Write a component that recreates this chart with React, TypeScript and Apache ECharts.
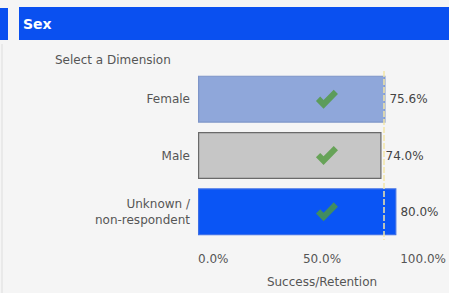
import React, { useEffect, useRef } from "react";
import * as echarts from "echarts";

const categories = ["Female", "Male", "Unknown /\nnon-respondent"];
const values = [75.6, 74.0, 80.0];
const checkPositions = [52, 52, 52];
const targetValue = 75;
const barColors = ["#8fa7da", "#c6c6c6", "#0a55f5"];
const barBorders = ["#7e95c8", "#6a6a6a", "#3c6ee6"];
const xTicks = { min: 0, max: 100, interval: 50 };

const FONT = "DejaVu Sans, Verdana, sans-serif";
const CHECK_PATH = "path://M0,13 L5,8 L9,12 L21,0 L26,5 L9,22 Z";

export default function App() {
  const ref = useRef<HTMLDivElement>(null);
  useEffect(() => {
    if (!ref.current) return;
    const chart = echarts.init(ref.current, null, { renderer: "svg" });
    chart.setOption({
      animation: false,
      backgroundColor: "#f5f5f5",
      textStyle: { fontFamily: FONT },
      graphic: [
        { type: "rect", shape: { x: 0, y: 8, width: 8, height: 32 }, style: { fill: "#0a50f0" } },
        { type: "rect", shape: { x: 19, y: 7, width: 430, height: 33 }, style: { fill: "#0a50f0" } },
        {
          type: "text",
          x: 23,
          y: 24,
          style: { text: "Sex", fill: "#ffffff", font: "bold 14px " + FONT, verticalAlign: "middle" },
        },
        {
          type: "text",
          x: 55,
          y: 60,
          style: { text: "Select a Dimension", fill: "#555555", font: "12px " + FONT, verticalAlign: "middle" },
        },
        { type: "line", shape: { x1: 2, y1: 44, x2: 2, y2: 293 }, style: { stroke: "#dddddd", lineWidth: 1 } },
      ],
      grid: { left: 198, right: 3, top: 71, bottom: 46 },
      xAxis: {
        type: "value",
        min: xTicks.min,
        max: xTicks.max,
        interval: xTicks.interval,
        axisLine: { show: false },
        axisTick: { show: false },
        splitLine: { show: false },
        axisLabel: {
          color: "#555555",
          fontSize: 12,
          margin: 13,
          alignMinLabel: "left",
          alignMaxLabel: "right",
          formatter: (v: number) => v.toFixed(1) + "%",
        },
        name: "Success/Retention",
        nameLocation: "middle",
        nameGap: 36,
        nameTextStyle: { color: "#555555", fontSize: 12 },
      },
      yAxis: {
        type: "category",
        data: categories,
        inverse: true,
        axisLine: { show: false },
        axisTick: { show: false },
        axisLabel: { color: "#555555", fontSize: 12, margin: 8, lineHeight: 16, align: "right" },
      },
      series: [
        {
          type: "bar",
          barWidth: 47,
          data: values.map((v, i) => ({
            value: v,
            itemStyle: { color: barColors[i], borderColor: barBorders[i], borderWidth: 1.2 },
          })),
          label: {
            show: true,
            position: "right",
            distance: 4,
            color: "#444444",
            fontSize: 12,
            formatter: (p: any) => Number(p.value).toFixed(1) + "%",
          },
          markLine: {
            silent: true,
            symbol: "none",
            label: { show: false },
            lineStyle: { color: "#f3e6a6", width: 1.5, type: [6, 2] },
            data: [{ xAxis: targetValue }],
          },
        },
        {
          type: "scatter",
          data: checkPositions.map((v, i) => [v, categories[i]]),
          symbol: CHECK_PATH,
          symbolSize: [22, 19],
          itemStyle: { color: "#4f9a3c" },
          z: 5,
        },
      ],
    });
    return () => chart.dispose();
  }, []);
  return <div ref={ref} style={{ position: "absolute", left: 0, top: 0, width: 449, height: 293 }} />;
}
